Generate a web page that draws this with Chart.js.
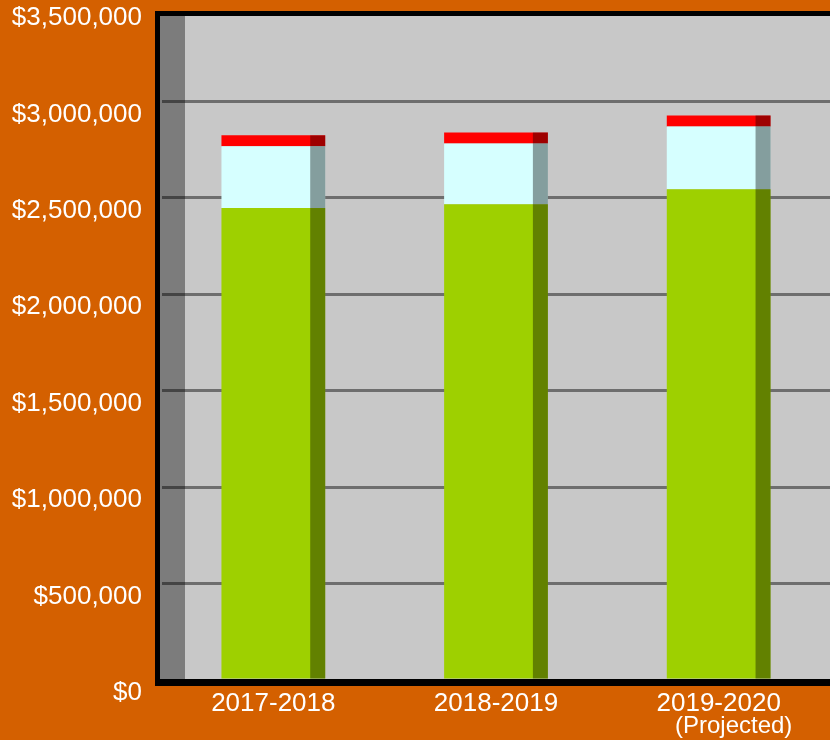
<!DOCTYPE html>
<html>
<head>
<meta charset="utf-8">
<script src="https://cdn.jsdelivr.net/npm/chart.js@4/dist/chart.umd.min.js"></script>
<style>
  html, body { margin: 0; padding: 0; background: #d46000; }
  #wrap { width: 830px; height: 740px; position: relative; }
</style>
</head>
<body>
<div id="wrap"><canvas id="budgetChart"></canvas></div>
<script>
const years = ["2017-2018", "2018-2019", "2019-2020"];
const yearNotes = ["", "", "(Projected)"];
const baseAmounts = [2447000, 2467000, 2545000];
const middleAmounts = [320000, 315000, 325000];
const topAmounts = [57000, 57000, 57000];
const yMax = 3500000;
const yStep = 500000;

const FONT = '"Liberation Sans", Arial, sans-serif';
const SHADE = 'rgba(0, 0, 0, 0.38)';

// gray plot, 3d wall, bar sides and black frame
const framePlugin = {
  id: 'frame',
  beforeDraw(chart) {
    const { ctx, chartArea: a } = chart;
    ctx.save();
    ctx.fillStyle = '#c8c8c8';
    ctx.fillRect(a.left - 2, a.top + 11, a.right - a.left + 2, a.bottom - a.top - 11);
    ctx.restore();
  },
  beforeDatasetsDraw(chart) {
    const { ctx, chartArea: a } = chart;
    ctx.save();
    ctx.fillStyle = SHADE;
    ctx.fillRect(a.left - 2, a.top + 11, 25, a.bottom - a.top - 11);
    ctx.restore();
  },
  afterDatasetsDraw(chart) {
    const { ctx, chartArea: a } = chart;
    ctx.save();
    ctx.fillStyle = SHADE;
    chart.data.datasets.forEach((ds, i) => {
      chart.getDatasetMeta(i).data.forEach(bar => {
        const p = bar.getProps(['x', 'y', 'base', 'width'], true);
        const right = p.x + p.width / 2;
        ctx.fillRect(right - 15, Math.min(p.y, p.base), 15, Math.abs(p.base - p.y));
      });
    });
    ctx.fillStyle = '#000';
    ctx.fillRect(a.left - 7, a.top + 6, a.right - a.left + 7, 5);
    ctx.fillRect(a.left - 7, a.top + 6, 5, a.bottom - a.top);
    ctx.fillRect(a.left - 7, a.bottom - 1, a.right - a.left + 7, 7);
    ctx.restore();
  },
  afterDraw(chart) {
    const { ctx, chartArea: a } = chart;
    const xs = chart.scales.x;
    ctx.save();
    ctx.font = '24px ' + FONT;
    ctx.fillStyle = '#fff';
    ctx.textAlign = 'center';
    ctx.textBaseline = 'middle';
    yearNotes.forEach((note, i) => {
      if (note) ctx.fillText(note, xs.getPixelForTick(i) + 15, a.bottom + 46);
    });
    ctx.restore();
  }
};

const ctx = document.getElementById('budgetChart').getContext('2d');
new Chart(ctx, {
  type: 'bar',
  data: {
    labels: years,
    datasets: [
      { data: baseAmounts, backgroundColor: '#9ed000' },
      { data: middleAmounts, backgroundColor: '#d6ffff' },
      { data: topAmounts, backgroundColor: '#ff0000' }
    ]
  },
  options: {
    responsive: true,
    maintainAspectRatio: false,
    animation: false,
    layout: { padding: { top: 5, right: 0, bottom: 0, left: 0 } },
    datasets: {
      bar: { categoryPercentage: 1, barPercentage: 0.466, borderWidth: 0 }
    },
    plugins: {
      legend: { display: false },
      tooltip: { enabled: false }
    },
    scales: {
      x: {
        stacked: true,
        grid: { display: false, drawTicks: false },
        border: { display: false },
        ticks: { color: '#fff', font: { family: FONT, size: 26 }, padding: 8 },
        afterFit(scale) {
          scale.height = 60;
          scale.paddingLeft = 0;
          scale.paddingRight = 0;
        }
      },
      y: {
        stacked: true,
        min: 0,
        max: yMax,
        grid: {
          drawTicks: false,
          lineWidth: 3,
          color: c => (c.tick && c.tick.value >= yMax) ? 'rgba(0,0,0,0)' : '#6e6e6e'
        },
        border: { display: false },
        ticks: {
          stepSize: yStep,
          color: '#fff',
          padding: 20,
          labelOffset: 13,
          font: { family: FONT, size: 26 },
          callback: v => '$' + Number(v).toLocaleString('en-US')
        },
        afterFit(scale) {
          scale.width = 162;
          scale.paddingTop = 0;
          scale.paddingBottom = 0;
        }
      }
    }
  },
  plugins: [framePlugin]
});
</script>
</body>
</html>
